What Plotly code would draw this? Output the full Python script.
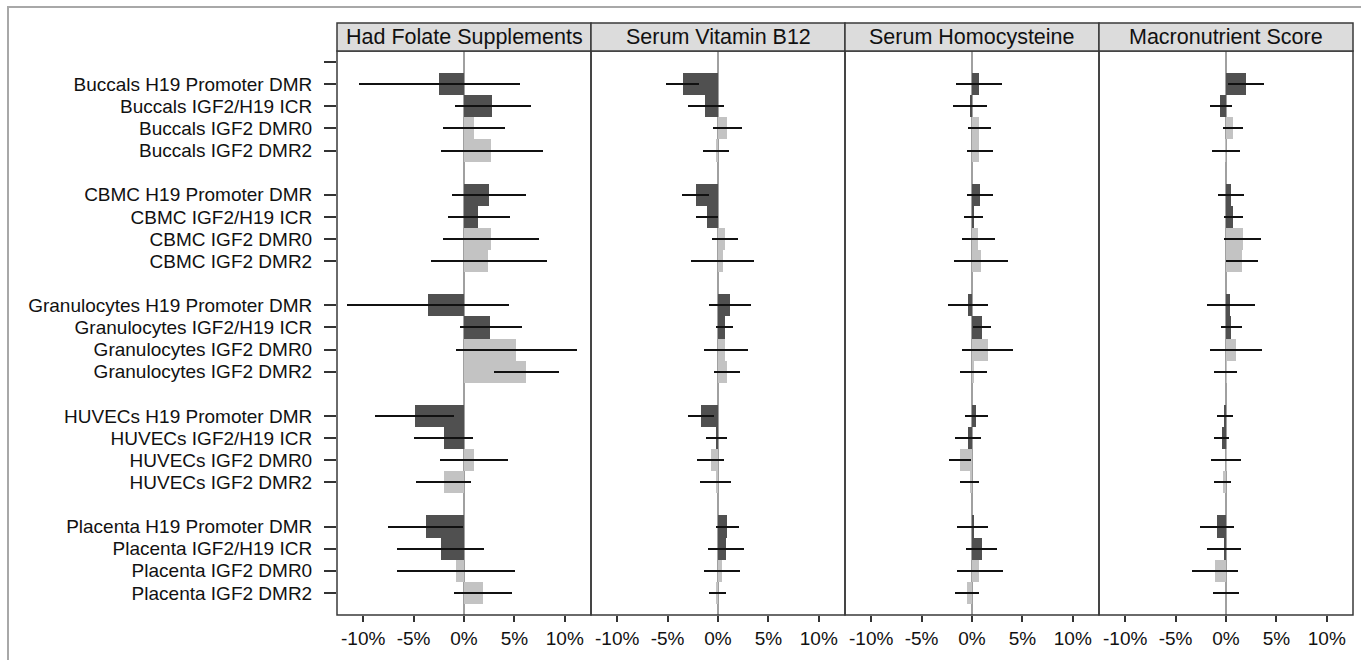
import plotly.graph_objects as go
from plotly.subplots import make_subplots

tissues = ["Buccals", "CBMC", "Granulocytes", "HUVECs", "Placenta"]
regions = ["H19 Promoter DMR", "IGF2/H19 ICR", "IGF2 DMR0", "IGF2 DMR2"]
exposures = ["Had Folate Supplements", "Serum Vitamin B12", "Serum Homocysteine", "Macronutrient Score"]
x_tick_vals = [-10, -5, 0, 5, 10]
x_tick_text = ["-10%", "-5%", "0%", "5%", "10%"]

# estimates (%) per row: tissue-major, region-minor
folate_est = [-2.5, 2.8, 1.0, 2.7,  2.5, 1.4, 2.7, 2.4,  -3.6, 2.6, 5.2, 6.2,  -4.9, -2.0, 1.0, -2.0,  -3.8, -2.3, -0.8, 1.9]
folate_lo = [-10.4, -0.9, -2.1, -2.3,  -1.2, -1.6, -2.1, -3.3,  -11.6, -0.4, -0.8, 3.0,  -8.8, -5.0, -2.4, -4.8,  -7.5, -6.6, -6.6, -1.0]
folate_hi = [5.6, 6.6, 4.1, 7.8,  6.2, 4.6, 7.4, 8.2,  4.5, 5.8, 11.2, 9.4,  -1.0, 0.9, 4.4, 0.7,  -0.1, 2.0, 5.1, 4.8]

b12_est = [-3.5, -1.3, 0.9, -0.2,  -2.2, -1.1, 0.7, 0.5,  1.2, 0.7, 0.7, 0.9,  -1.7, -0.2, -0.7, -0.2,  0.9, 0.8, 0.4, -0.1]
b12_lo = [-5.2, -3.0, -0.5, -1.5,  -3.6, -2.2, -0.6, -2.7,  -0.9, -0.2, -1.4, -0.4,  -3.0, -1.2, -2.1, -1.8,  -0.2, -1.0, -1.4, -0.9]
b12_hi = [-1.9, 0.6, 2.4, 1.1,  -0.9, 0.0, 2.0, 3.6,  3.3, 1.5, 3.0, 2.2,  -0.4, 0.9, 0.6, 1.3,  2.1, 2.6, 2.2, 0.8]

hcy_est = [0.7, -0.2, 0.7, 0.7,  0.8, 0.1, 0.6, 0.9,  -0.4, 1.0, 1.6, 0.1,  0.4, -0.4, -1.2, -0.2,  0.1, 1.0, 0.7, -0.5]
hcy_lo = [-1.6, -1.9, -0.4, -0.5,  -0.5, -0.8, -1.0, -1.8,  -2.4, 0.1, -1.0, -1.2,  -0.7, -1.7, -2.3, -1.2,  -1.5, -0.6, -1.5, -1.7]
hcy_hi = [3.0, 1.5, 1.9, 2.1,  2.1, 1.1, 2.3, 3.6,  1.6, 1.9, 4.1, 1.5,  1.6, 0.9, -0.1, 0.7,  1.6, 2.5, 3.1, 0.7]

macro_est = [2.0, -0.6, 0.7, -0.05,  0.5, 0.7, 1.7, 1.6,  0.4, 0.5, 1.0, 0.03,  -0.1, -0.4, 0.03, -0.3,  -0.9, -0.2, -1.1, 0.0]
macro_lo = [0.2, -1.6, -0.3, -1.4,  -0.8, -0.2, -0.2, 0.0,  -1.9, -0.5, -1.6, -1.2,  -0.9, -1.2, -1.5, -1.2,  -2.6, -1.9, -3.4, -1.3]
macro_hi = [3.8, 0.6, 1.7, 1.4,  1.8, 1.7, 3.5, 3.2,  2.9, 1.6, 3.6, 1.1,  0.7, 0.3, 1.5, 0.5,  0.8, 1.5, 1.2, 1.3]

panels = [
    (folate_est, folate_lo, folate_hi),
    (b12_est, b12_lo, b12_hi),
    (hcy_est, hcy_lo, hcy_hi),
    (macro_est, macro_lo, macro_hi),
]

DARK = "#505050"
LIGHT = "#c3c3c3"
FONT = "Liberation Sans, Arial, sans-serif"

labels, ypos, colors = [], [], []
for g, t in enumerate(tissues):
    for r, reg in enumerate(regions):
        labels.append(f"{t} {reg}")
        ypos.append(g * 5 + r + 1)
        colors.append(DARK if r < 2 else LIGHT)

fig = make_subplots(rows=1, cols=4, shared_yaxes=True, horizontal_spacing=0)

for i, (est, lo, hi) in enumerate(panels):
    plus = [h - e for e, h in zip(est, hi)]
    minus = [e - l for e, l in zip(est, lo)]
    fig.add_trace(go.Bar(
        x=est, y=ypos, orientation="h", width=1.0,
        marker=dict(color=colors, line=dict(width=0)),
        error_x=dict(type="data", symmetric=False, array=plus, arrayminus=minus,
                     color="#111111", thickness=2, width=0),
        showlegend=False, hoverinfo="x+y",
    ), row=1, col=i + 1)
    fig.update_xaxes(
        range=[-12.6, 12.6], tickvals=x_tick_vals, ticktext=x_tick_text,
        ticks="outside", ticklen=6, tickcolor="#333333", tickwidth=1.5,
        showgrid=False, zeroline=True, zerolinecolor="#a0a0a0", zerolinewidth=1.5,
        showline=False, tickfont=dict(family=FONT, size=19, color="#111111"),
        fixedrange=True, row=1, col=i + 1)

fig.update_yaxes(
    range=[25, -0.5], tickvals=[0] + ypos, ticktext=[""] + labels,
    ticks="outside", ticklen=12, tickcolor="#333333", tickwidth=1.5,
    ticklabelstandoff=8,
    showgrid=False, zeroline=False, showline=False,
    tickfont=dict(family=FONT, size=19, color="#111111"))
fig.update_yaxes(ticks="", showticklabels=False, col=2)
fig.update_yaxes(ticks="", showticklabels=False, col=3)
fig.update_yaxes(ticks="", showticklabels=False, col=4)

# plot area: x 337..1353, y 51..615
W, H = 1361, 660
L, R, T, B = 337, 8, 51, 45
pw, ph = W - L - R, H - T - B

def px_x(x):
    return (x - L) / pw

def px_y(y):
    return (H - B - y) / ph

shapes = []
annotations = []
# outer frame
shapes.append(dict(type="rect", xref="paper", yref="paper",
                   x0=px_x(8), x1=px_x(W + 20), y0=px_y(H + 20), y1=px_y(7),
                   line=dict(color="#a8a8a8", width=2), fillcolor="rgba(0,0,0,0)", layer="below"))
for i in range(4):
    x0, x1 = i / 4, (i + 1) / 4
    # panel border
    shapes.append(dict(type="rect", xref="paper", yref="paper", x0=x0, x1=x1, y0=0, y1=1,
                       line=dict(color="#3a3a3a", width=1.5), fillcolor="rgba(0,0,0,0)"))
    # header strip
    shapes.append(dict(type="rect", xref="paper", yref="paper", x0=x0, x1=x1,
                       y0=1, y1=px_y(23), line=dict(color="#3a3a3a", width=1.5),
                       fillcolor="#dcdcdc"))
    annotations.append(dict(text=exposures[i], xref="paper", yref="paper",
                            x=(x0 + x1) / 2, y=(1 + px_y(23)) / 2, showarrow=False,
                            xanchor="center", yanchor="middle",
                            font=dict(family=FONT, size=21.5, color="#111111")))

fig.update_layout(
    width=W, height=H,
    margin=dict(l=L, r=R, t=T, b=B, pad=0),
    paper_bgcolor="white", plot_bgcolor="white",
    shapes=shapes, annotations=annotations,
    bargap=0, font=dict(family=FONT),
)

fig.write_html("out.html")
